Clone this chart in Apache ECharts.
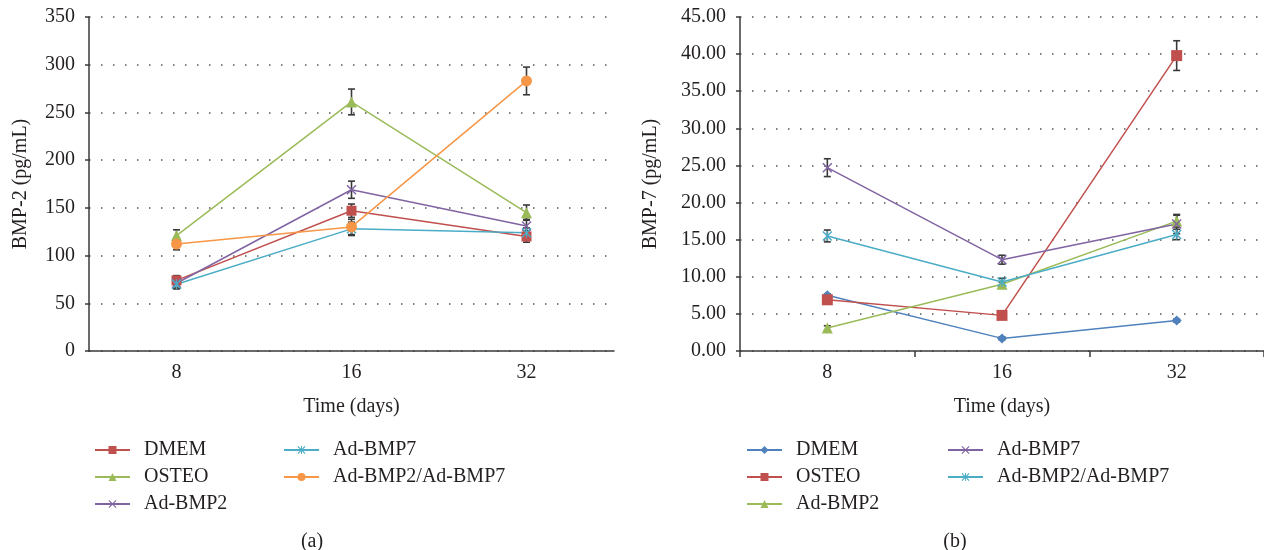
<!DOCTYPE html>
<html>
<head>
<meta charset="utf-8">
<script src="https://cdn.jsdelivr.net/npm/echarts@6/dist/echarts.min.js"></script>
<style>
html,body{margin:0;padding:0;background:#fff;}
#c{width:1264px;height:550px;}
</style>
</head>
<body>
<div id="c"></div>
<script>
// ---- data ----
const categories = ['8', '16', '32'];
const yTicksA = [0, 350, 50];
const yTicksB = [0, 45, 5];

// Panel (a): BMP-2 (pg/mL)
const namesA = ['DMEM', 'OSTEO', 'Ad-BMP2', 'Ad-BMP7', 'Ad-BMP2/Ad-BMP7'];
const a_DMEM = [74, 147, 120];
const a_OSTEO = [121, 261, 145];
const a_AdBMP2 = [71, 169, 131];
const a_AdBMP7 = [70, 128, 124];
const a_Combo = [112, 130, 283];
const aErr_DMEM = [5, 7, 6];
const aErr_OSTEO = [6, 13.5, 8];
const aErr_AdBMP2 = [5, 9, 7];
const aErr_AdBMP7 = [5, 7, 5];
const aErr_Combo = [6, 8, 14.5];

// Panel (b): BMP-7 (pg/mL)
const namesB = ['DMEM', 'OSTEO', 'Ad-BMP2', 'Ad-BMP7', 'Ad-BMP2/Ad-BMP7'];
const b_DMEM = [7.5, 1.7, 4.1];
const b_OSTEO = [6.9, 4.8, 39.8];
const b_AdBMP2 = [3.1, 9.0, 17.5];
const b_AdBMP7 = [24.7, 12.3, 17.1];
const b_Combo = [15.5, 9.3, 15.7];
const bErr_DMEM = [0.2, 0.2, 0.2];
const bErr_OSTEO = [0.3, 0.3, 2.0];
const bErr_AdBMP2 = [0.3, 0.3, 0.8];
const bErr_AdBMP7 = [1.2, 0.6, 1.3];
const bErr_Combo = [0.8, 0.5, 0.7];

// ---- styles ----
const FONT = '"Liberation Serif", "DejaVu Serif", serif';
const TXT = '#231f20';
const C = {blue:'#4F81BD', red:'#C0504D', green:'#9BBB59', purple:'#8064A2', cyan:'#4BACC6', orange:'#F79646'};
const SYM_X = 'path://M0,1L1,0L5,4L9,0L10,1L6,5L10,9L9,10L5,6L1,10L0,9L4,5Z';
const SYM_STAR = 'path://M0,1L1,0L5,4L9,0L10,1L6,5L10,9L9,10L5,6L1,10L0,9L4,5Z M4.4,0L5.6,0L5.6,10L4.4,10Z';

function lineSeries(name, data, color, symbol, size, axis) {
  return {
    type: 'line', name: name, data: data,
    xAxisIndex: axis, yAxisIndex: axis,
    symbol: symbol, symbolSize: size, showSymbol: true,
    lineStyle: {color: color, width: 1.5},
    itemStyle: {color: color},
    emphasis: {disabled: true},
    animation: false, z: 3
  };
}
function errSeries(vals, errs, axis) {
  return {
    type: 'custom', xAxisIndex: axis, yAxisIndex: axis,
    name: 'err' + axis,
    data: vals.map((v, i) => [i, v - errs[i], v + errs[i]]),
    renderItem: function (params, api) {
      const lo = api.coord([api.value(0), api.value(1)]);
      const hi = api.coord([api.value(0), api.value(2)]);
      const w = 3.5;
      const st = {stroke: '#3a3a3a', lineWidth: 1.6};
      return {type: 'group', children: [
        {type: 'line', shape: {x1: lo[0], y1: lo[1], x2: hi[0], y2: hi[1]}, style: st},
        {type: 'line', shape: {x1: lo[0]-w, y1: lo[1], x2: lo[0]+w, y2: lo[1]}, style: st},
        {type: 'line', shape: {x1: hi[0]-w, y1: hi[1], x2: hi[0]+w, y2: hi[1]}, style: st}
      ]};
    },
    silent: true, animation: false, z: 2
  };
}

function xAxis(idx, ticks) {
  return {
    type: 'category', gridIndex: idx, data: categories, boundaryGap: true,
    name: 'Time (days)', nameLocation: 'middle', nameGap: 46,
    nameTextStyle: {fontFamily: FONT, fontSize: 20, color: TXT},
    axisLine: {lineStyle: {color: '#3a3a3a', width: 1.5}},
    axisTick: {show: ticks, length: 6, lineStyle: {color: '#3a3a3a', width: 1.5}},
    axisLabel: {fontFamily: FONT, fontSize: 20, color: TXT, margin: 12},
    splitLine: {show: false}
  };
}
function yAxis(idx, t, name, gap, dec) {
  return {
    type: 'value', gridIndex: idx, min: t[0], max: t[1], interval: t[2],
    name: name, nameLocation: 'middle', nameGap: gap, nameRotate: 90,
    nameTextStyle: {fontFamily: FONT, fontSize: 20, color: TXT},
    axisLine: {show: true, lineStyle: {color: '#3a3a3a', width: 1.5}},
    axisTick: {show: true, length: 4, lineStyle: {color: '#3a3a3a', width: 1.5}},
    axisLabel: {fontFamily: FONT, fontSize: 20, color: TXT, margin: 14,
      formatter: v => dec ? v.toFixed(2) : String(v)},
    splitLine: {show: true, lineStyle: {color: '#555', width: 1.5, type: [1.5, 10.5]}}
  };
}
function legend(left, data) {
  return {
    left: left, top: 435, orient: 'vertical', itemGap: 7,
    itemWidth: 35, itemHeight: 10, data: data,
    formatter: n => n.replace(/^b:/, ''),
    textStyle: {fontFamily: FONT, fontSize: 20, color: TXT, padding: [0, 0, 0, 9]},
    selectedMode: false
  };
}

const option = {
  backgroundColor: '#fff',
  animation: false,
  title: [
    {text: '(a)', left: 307, top: 537, textAlign: 'center', textVerticalAlign: 'middle',
     textStyle: {fontFamily: FONT, fontSize: 20, fontWeight: 'normal', color: TXT}},
    {text: '(b)', left: 950, top: 537, textAlign: 'center', textVerticalAlign: 'middle',
     textStyle: {fontFamily: FONT, fontSize: 20, fontWeight: 'normal', color: TXT}}
  ],
  grid: [
    {left: 89, top: 17, width: 525, height: 334},
    {left: 740, top: 17, width: 528, height: 334}
  ],
  xAxis: [xAxis(0, false), xAxis(1, true)],
  yAxis: [yAxis(0, yTicksA, 'BMP-2 (pg/mL)', 58, false), yAxis(1, yTicksB, 'BMP-7 (pg/mL)', 79, true)],
  legend: [
    legend(89, [namesA[0], namesA[1], namesA[2]]),
    legend(278, [namesA[3], namesA[4]]),
    legend(741, ['b:' + namesB[0], 'b:' + namesB[1], 'b:' + namesB[2]]),
    legend(942, ['b:' + namesB[3], 'b:' + namesB[4]])
  ],
  series: [
    errSeries(a_DMEM, aErr_DMEM, 0),
    errSeries(a_OSTEO, aErr_OSTEO, 0),
    errSeries(a_AdBMP2, aErr_AdBMP2, 0),
    errSeries(a_AdBMP7, aErr_AdBMP7, 0),
    errSeries(a_Combo, aErr_Combo, 0),
    lineSeries(namesA[0], a_DMEM, C.red, 'rect', 10, 0),
    lineSeries(namesA[1], a_OSTEO, C.green, 'triangle', 11, 0),
    lineSeries(namesA[2], a_AdBMP2, C.purple, SYM_X, 10, 0),
    lineSeries(namesA[3], a_AdBMP7, C.cyan, SYM_STAR, 10, 0),
    lineSeries(namesA[4], a_Combo, C.orange, 'circle', 11, 0),
    errSeries(b_DMEM, bErr_DMEM, 1),
    errSeries(b_OSTEO, bErr_OSTEO, 1),
    errSeries(b_AdBMP2, bErr_AdBMP2, 1),
    errSeries(b_AdBMP7, bErr_AdBMP7, 1),
    errSeries(b_Combo, bErr_Combo, 1),
    lineSeries('b:' + namesB[0], b_DMEM, C.blue, 'diamond', 10, 1),
    lineSeries('b:' + namesB[1], b_OSTEO, C.red, 'rect', 11, 1),
    lineSeries('b:' + namesB[2], b_AdBMP2, C.green, 'triangle', 11, 1),
    lineSeries('b:' + namesB[3], b_AdBMP7, C.purple, SYM_X, 10, 1),
    lineSeries('b:' + namesB[4], b_Combo, C.cyan, SYM_STAR, 10, 1)
  ]
};
const chart = echarts.init(document.getElementById('c'), null, {renderer: 'canvas'});
chart.setOption(option);
</script>
</body>
</html>
